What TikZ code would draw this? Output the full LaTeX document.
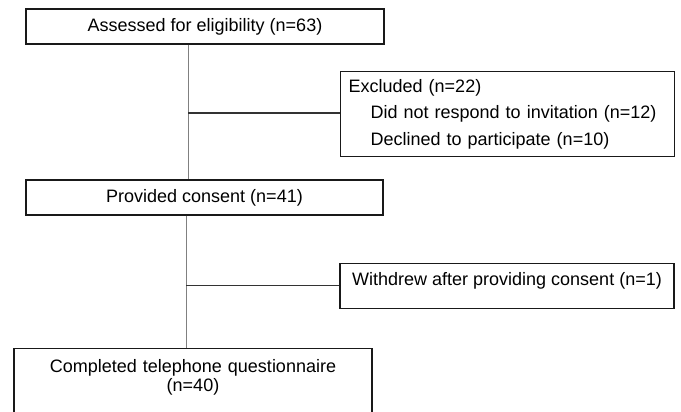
\documentclass[tikz,border=0pt]{standalone}
\usepackage{fontspec}
\setmainfont{Liberation Sans}
\usetikzlibrary{positioning}

\tikzset{
  box/.style={draw=black!90, line width=1.4pt, inner xsep=0pt, inner ysep=0pt},
  trunk/.style={draw=black!50, line width=1pt},
  branch/.style={draw=black!80, line width=1.3pt}
}

\begin{document}
\begin{tikzpicture}[x=1pt, y=-1pt, font=\fontsize{18}{26.5}\selectfont]
      \useasboundingbox (0,0) rectangle (681,412);
      \begin{scope}
        \node[box, minimum width=358pt, minimum height=35pt] (assessed) at (205,26.5) {Assessed for eligibility (n=63)};
        \node[box, minimum width=357pt, minimum height=35pt] (consent) at (204.5,197.5) {Provided consent (n=41)};
        \node[box, anchor=north west, text width=318pt, inner xsep=8pt, align=left,
              text height=20.5pt, text depth=64.5pt] (excluded) at (340,71)
              {Excluded (n=22)\\\hspace*{22pt}Did not respond to invitation (n=12)\\\hspace*{22pt}Declined to participate (n=10)};
        \node[box, anchor=north, minimum width=334pt, text height=22pt, text depth=23pt] (withdrew) at (507,263)
              {Withdrew after providing consent (n=1)};
        \node[box, anchor=north, text width=358pt, align=center, text height=24pt, text depth=70pt,
              font=\fontsize{18}{18.5}\selectfont] (completed) at (193,348)
              {Completed telephone questionnaire\\(n=40)};
        % branch points on the trunk
        \coordinate (j1) at (188,113);
        \coordinate (j2) at (186,285.5);
        \draw[trunk] (assessed.south -| j1) -- (consent.north -| j1);
        \draw[trunk] (consent.south -| j2) -- (completed.north -| j2);
        \draw[branch] (j1) -- (j1 -| excluded.west);
        \draw[branch] (j2) -- (j2 -| withdrew.west);
      \end{scope}
    \end{tikzpicture}
\end{document}
